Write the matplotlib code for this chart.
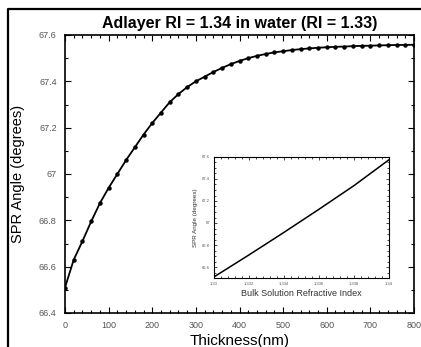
import matplotlib
matplotlib.use("Agg")
import matplotlib.pyplot as plt
from matplotlib.ticker import AutoMinorLocator
from matplotlib.lines import Line2D

plt.rcParams['font.family'] = ['Liberation Sans', 'DejaVu Sans']

thickness_nm = [0, 20, 40, 60, 80, 100, 120, 140, 160, 180, 200, 220, 240, 260, 280,
                300, 320, 340, 360, 380, 400, 420, 440, 460, 480, 500, 520, 540, 560,
                580, 600, 620, 640, 660, 680, 700, 720, 740, 760, 780, 800]
spr_angle = [66.51, 66.63, 66.71, 66.795, 66.874, 66.94, 67.00, 67.06, 67.115, 67.17,
             67.22, 67.265, 67.31, 67.345, 67.375, 67.40, 67.42, 67.44, 67.458, 67.474,
             67.488, 67.50, 67.51, 67.518, 67.525, 67.53, 67.535, 67.539, 67.542, 67.545,
             67.547, 67.549, 67.55, 67.552, 67.553, 67.554, 67.555, 67.556, 67.557,
             67.557, 67.558]

bulk_ri = [1.330, 1.332, 1.334, 1.336, 1.338, 1.340]
bulk_angle = [66.51, 66.71, 66.915, 67.125, 67.34, 67.575]

main_xticks = [0, 100, 200, 300, 400, 500, 600, 700, 800]
main_yticks = [66.4, 66.6, 66.8, 67.0, 67.2, 67.4, 67.6]
main_yticklabels = ['66.4', '66.6', '66.8', '67', '67.2', '67.4', '67.6']
inset_xticks = [1.330, 1.332, 1.334, 1.336, 1.338, 1.340]
inset_xticklabels = ['1.33', '1.332', '1.334', '1.336', '1.338', '1.34']
inset_yticks = [66.6, 66.8, 67.0, 67.2, 67.4, 67.6]
inset_yticklabels = ['66.6', '66.8', '67', '67.2', '67.4', '67.6']

W, H = 421, 347
fig = plt.figure(figsize=(W / 100, H / 100), dpi=100)

# outer frame (left and top)
fig.add_artist(Line2D([7.5 / W, 7.5 / W, 1.0], [0.0, 1 - 9 / H, 1 - 9 / H],
                      transform=fig.transFigure, color='black', lw=1.6))

ax = fig.add_axes([65 / W, 1 - 313 / H, (414 - 65) / W, (313 - 35) / H])
ax.plot(thickness_nm, spr_angle, color='black', lw=1.3, marker='o', markersize=2.2)
ax.set_xlim(0, 800)
ax.set_ylim(66.4, 67.6)
ax.set_xticks(main_xticks)
ax.set_yticks(main_yticks)
ax.set_yticklabels(main_yticklabels)
ax.xaxis.set_minor_locator(AutoMinorLocator(5))
ax.yaxis.set_minor_locator(AutoMinorLocator(2))
ax.tick_params(which='both', direction='in', top=True, right=True, labelsize=6.5,
               labelcolor='#555555', width=0.8)
ax.tick_params(which='major', length=4, pad=6)
ax.tick_params(which='minor', length=2)
for s in ax.spines.values():
    s.set_linewidth(1.2)
ax.set_xlabel('Thickness(nm)', fontsize=11, labelpad=3)
ax.set_ylabel('SPR Angle (degrees)', fontsize=10.5, labelpad=10)
ax.set_title('Adlayer RI = 1.34 in water (RI = 1.33)', fontsize=11.5, fontweight='bold', pad=5)

ins = fig.add_axes([214 / W, 1 - 278 / H, (389 - 214) / W, (278 - 157) / H])
ins.plot(bulk_ri, bulk_angle, color='black', lw=1.1)
ins.set_xlim(1.330, 1.340)
ins.set_ylim(66.5, 67.6)
ins.set_xticks(inset_xticks)
ins.set_xticklabels(inset_xticklabels)
ins.set_yticks(inset_yticks)
ins.set_yticklabels(inset_yticklabels)
ins.xaxis.set_minor_locator(AutoMinorLocator(5))
ins.yaxis.set_minor_locator(AutoMinorLocator(4))
ins.tick_params(which='both', direction='in', top=True, right=True, labelsize=3,
                labelcolor='#555555', width=0.5)
ins.tick_params(which='major', length=2.5, pad=3)
ins.tick_params(which='minor', length=1.2)
for s in ins.spines.values():
    s.set_linewidth(0.8)
ins.set_xlabel('Bulk Solution Refractive Index', fontsize=6.5, labelpad=2, color='#333333')
ins.set_ylabel('SPR Angle (degrees)', fontsize=4.5, labelpad=3, color='#333333')

fig.savefig('out.png', dpi=100)
